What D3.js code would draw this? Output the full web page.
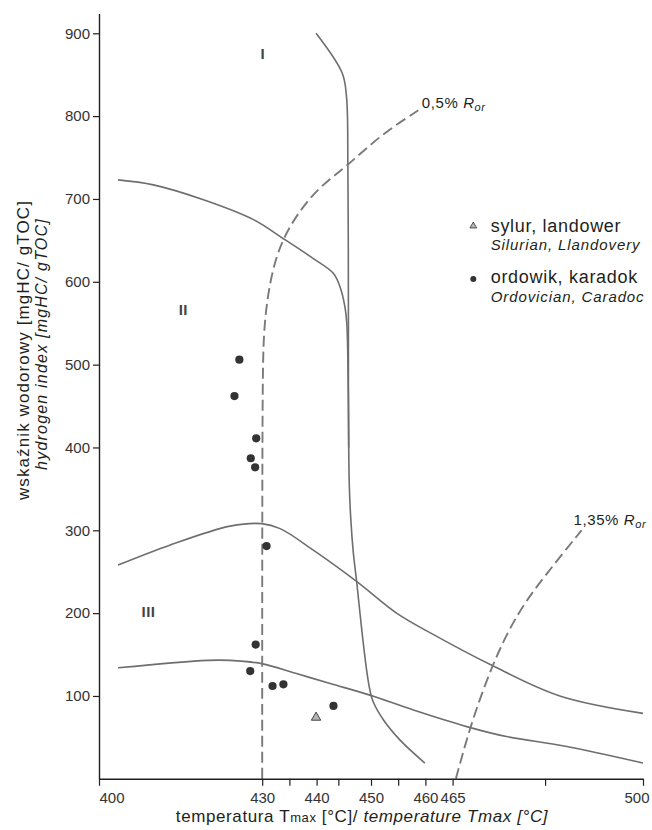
<!DOCTYPE html>
<html>
<head>
<meta charset="utf-8">
<script src="https://cdn.jsdelivr.net/npm/d3@7"></script>
<style>
  html, body { margin: 0; padding: 0; background: #fff; }
  svg { display: block; font-family: "Liberation Sans", Arial, Helvetica, sans-serif; }
</style>
</head>
<body>
<svg id="chart" width="652" height="830"></svg>
<script>
// ---- axis ticks ----
const xTicks = [400, 430, 435, 440, 444, 450, 455, 460, 465, 482, 500];
const xTickLabels = { 400: "400", 430: "430", 440: "440", 450: "450", 460: "460", 465: "465", 500: "500" };
const yTicks = [100, 200, 300, 400, 500, 600, 700, 800, 900];

// ---- kerogen-type boundary curves, [Tmax °C, HI mgHC/gTOC] ----
const boundaryMaturity = [[439.9, 900], [444.7, 852], [445.5, 823], [445.75, 739], [445.85, 554], [445.85, 478],
  [446.0, 357], [446.3, 312], [446.75, 273], [447.4, 236], [448.3, 180], [449.2, 131], [449.8, 107],
  [450.4, 93], [452.3, 71], [455.3, 47], [459.9, 19]];
const boundaryTypeI = [[403.5, 723], [410, 717], [419.2, 699], [428.4, 675], [433.9, 652], [439.4, 628],
  [443.1, 610], [444.3, 594], [445.2, 570], [445.55, 550], [445.8, 480], [445.9, 400]];
const boundaryTypeII = [[403.5, 258], [413, 282], [424.1, 305], [429.9, 308], [433.3, 302], [439.4, 276],
  [447.4, 238], [454.7, 200], [461.5, 174], [472.2, 137], [484.7, 100], [500, 79]];
const boundaryTypeIII = [[403.5, 134], [419.9, 143], [424.1, 143], [429.9, 139], [436.3, 127], [442.5, 115],
  [449.8, 101], [457.8, 83], [467.6, 63], [474.9, 51], [486, 39], [500, 19]];

// ---- vitrinite reflectance isolines ----
const isoRo05 = [[430, 0], [430, 480], [430.3, 540], [430.9, 578], [432, 618], [433.9, 654], [437, 687],
  [440.6, 715], [445.5, 739], [451.7, 777], [458.7, 807]];
const isoRo135 = [[465.6, 0], [468.2, 63], [472.2, 137], [476.8, 200], [482.3, 248], [488.7, 300]];

// ---- samples ----
const ordovicianTmax = [425.8, 424.9, 428.9, 427.9, 428.7, 430.8, 428.8, 427.8, 431.9, 433.9, 443.1];
const ordovicianHI   = [506, 462, 411, 387, 376, 281, 162, 130, 112, 114, 88];
const silurianTmax = [439.9];
const silurianHI   = [74];

const svg = d3.select("#chart");
const x = d3.scaleLinear().domain([400, 500]).range([99, 643]);
const y = d3.scaleLinear().domain([0, 924]).range([778.8, 13.4]);

const axisColor = "#231f20";
const textColor = "#231f20";

// ---- curves ----
const line = d3.line().x(d => x(d[0])).y(d => y(d[1])).curve(d3.curveCatmullRom.alpha(0.5));
const smoothLine = d3.line().x(d => x(d[0])).y(d => y(d[1])).curve(d3.curveBasis);
const solid = [boundaryMaturity, boundaryTypeI, boundaryTypeII, boundaryTypeIII];
svg.append("g").selectAll("path").data(solid).join("path")
  .attr("d", line).attr("fill", "none").attr("stroke", "#6e6e6e").attr("stroke-width", 1.6);
svg.append("g").selectAll("path").data([isoRo05, isoRo135]).join("path")
  .attr("d", smoothLine).attr("fill", "none").attr("stroke", "#7a7a7a").attr("stroke-width", 1.9)
  .attr("stroke-dasharray", "11,5");

// ---- isoline labels ----
function roLabel(pt, dx, dy, value) {
  const t = svg.append("text").attr("x", x(pt[0]) + dx).attr("y", y(pt[1]) + dy)
    .attr("font-size", 15).attr("letter-spacing", 0.6).attr("fill", textColor);
  t.append("tspan").text(value + " ");
  t.append("tspan").attr("font-style", "italic").text("R");
  t.append("tspan").attr("font-style", "italic").attr("font-size", 11).attr("dy", 3).text("or");
}
roLabel(isoRo05[isoRo05.length - 1], 3.5, -2, "0,5%");
roLabel(isoRo135[isoRo135.length - 1], -8, -5, "1,35%");

// ---- kerogen type labels ----
const typeLabels = [["I", 430.1, 875], ["II", 415.5, 567], ["III", 409.1, 202]];
svg.append("g").selectAll("text").data(typeLabels).join("text")
  .attr("x", d => x(d[1])).attr("y", d => y(d[2])).attr("dy", "0.36em")
  .attr("text-anchor", "middle").attr("font-size", 15).attr("font-weight", "bold")
  .attr("letter-spacing", 0.5).attr("fill", "#444").text(d => d[0]);

// ---- samples ----
svg.append("g").selectAll("circle").data(ordovicianTmax).join("circle")
  .attr("cx", d => x(d)).attr("cy", (d, i) => y(ordovicianHI[i])).attr("r", 4.1).attr("fill", "#333");
const tri = d3.symbol().type(d3.symbolTriangle);
svg.append("g").selectAll("path").data(silurianTmax).join("path")
  .attr("transform", (d, i) => `translate(${x(d)},${y(silurianHI[i])})`)
  .attr("d", tri.size(38)).attr("fill", "#b5b5b5").attr("stroke", "#444").attr("stroke-width", 1);

// ---- axes ----
const xAxis = d3.axisBottom(x).tickValues(xTicks).tickFormat(d => xTickLabels[d] || "")
  .tickSize(7).tickSizeOuter(0).tickPadding(7);
const gx = svg.append("g").attr("transform", `translate(0,${y(0)})`).call(xAxis);
const yAxis = d3.axisLeft(y).tickValues(yTicks).tickSize(6).tickSizeOuter(0).tickPadding(3);
const gy = svg.append("g").attr("transform", `translate(${x(400)},0)`).call(yAxis);
[gx, gy].forEach(g => {
  g.select(".domain").attr("stroke", axisColor).attr("stroke-width", 1.4);
  g.selectAll(".tick line").attr("stroke", axisColor).attr("stroke-width", 1.2);
  g.selectAll(".tick text").attr("font-size", 15).attr("fill", "#333")
    .attr("font-family", "'Liberation Sans', Arial, sans-serif");
});
gx.selectAll(".tick text").filter(d => d === 400).attr("text-anchor", "start").attr("dx", 0);
gx.selectAll(".tick text").filter(d => d === 500).attr("text-anchor", "end").attr("dx", 6);

// ---- axis titles ----
const xt = svg.append("text").attr("x", 362).attr("y", 822).attr("text-anchor", "middle")
  .attr("font-size", 17).attr("letter-spacing", 0.6).attr("fill", textColor);
xt.append("tspan").text("temperatura T");
xt.append("tspan").attr("font-size", 13).text("max");
xt.append("tspan").text(" [°C]/ ");
xt.append("tspan").attr("font-style", "italic").text("temperature Tmax [°C]");

svg.append("text").attr("transform", "translate(29,350) rotate(-90)").attr("text-anchor", "middle")
  .attr("font-size", 17).attr("letter-spacing", 1.1).attr("fill", textColor)
  .text("wskaźnik wodorowy [mgHC/ gTOC]");
svg.append("text").attr("transform", "translate(47,344) rotate(-90)").attr("text-anchor", "middle")
  .attr("font-size", 16).attr("font-style", "italic").attr("letter-spacing", 1.2).attr("fill", textColor)
  .text("hydrogen index [mgHC/ gTOC]");

// ---- legend ----
const legend = svg.append("g");
const legendItems = [
  { symbol: "triangle", main: "sylur, landower", sub: "Silurian, Llandovery", y: 231.5 },
  { symbol: "circle", main: "ordowik, karadok", sub: "Ordovician, Caradoc", y: 283 }
];
legendItems.forEach(item => {
  if (item.symbol === "triangle") {
    legend.append("path").attr("transform", `translate(473.3,${item.y - 5.5})`)
      .attr("d", d3.symbol().type(d3.symbolTriangle).size(20)())
      .attr("fill", "#b5b5b5").attr("stroke", "#444").attr("stroke-width", 0.9);
  } else {
    legend.append("circle").attr("cx", 473.3).attr("cy", item.y - 4).attr("r", 3).attr("fill", "#333");
  }
  legend.append("text").attr("x", 490.7).attr("y", item.y).attr("font-size", 18)
    .attr("letter-spacing", 0.7).attr("fill", textColor).text(item.main);
  legend.append("text").attr("x", 490.7).attr("y", item.y + 18.5).attr("font-size", 15)
    .attr("font-style", "italic").attr("letter-spacing", 0.9).attr("fill", textColor).text(item.sub);
});
</script>
</body>
</html>
